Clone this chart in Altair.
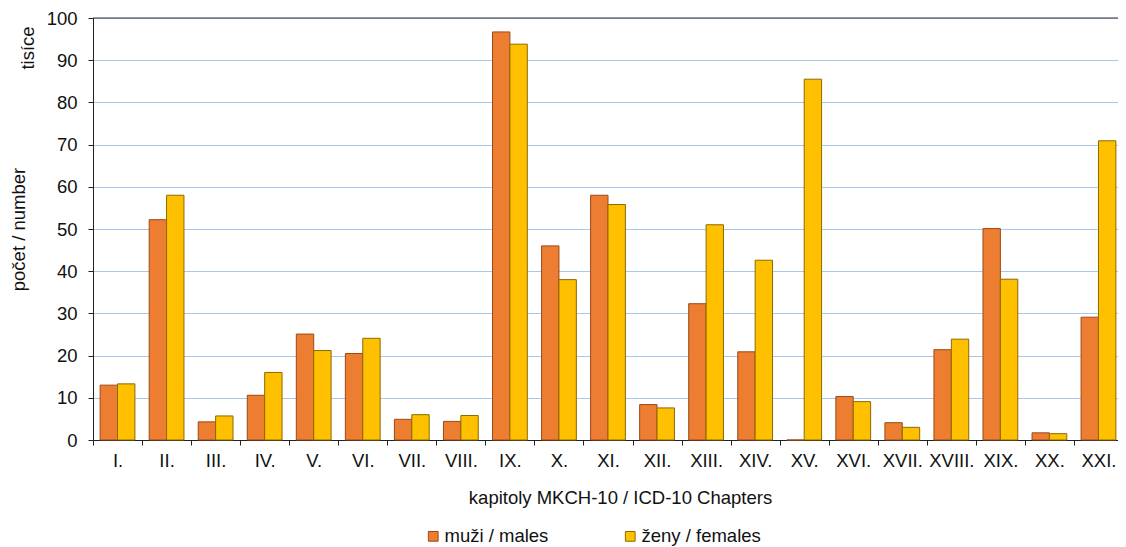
import altair as alt
import pandas as pd

chapters = ["I.", "II.", "III.", "IV.", "V.", "VI.", "VII.", "VIII.", "IX.", "X.",
            "XI.", "XII.", "XIII.", "XIV.", "XV.", "XVI.", "XVII.", "XVIII.", "XIX.", "XX.", "XXI."]
males = [13.0, 52.2, 4.3, 10.6, 25.1, 20.5, 4.9, 4.4, 96.7, 46.0,
         58.0, 8.4, 32.3, 20.9, 0.0, 10.3, 4.1, 21.4, 50.1, 1.7, 29.1]
females = [13.3, 58.0, 5.7, 16.0, 21.2, 24.1, 6.0, 5.8, 93.8, 38.0,
           55.8, 7.6, 51.0, 42.6, 85.5, 9.1, 3.0, 23.9, 38.1, 1.5, 70.9]
series = ["muži / males", "ženy / females"]
fill_colors = ["#ED7D31", "#FFC000"]
stroke_colors = ["#9A4A17", "#8C6A00"]

rows = []
for c, m, f in zip(chapters, males, females):
    rows.append({"chapter": c, "sex": series[0], "value": m})
    rows.append({"chapter": c, "sex": series[1], "value": f})
df = pd.DataFrame(rows)

FONT = "Liberation Sans"
FS = 18.5

bars = alt.Chart(df).mark_bar(strokeWidth=1).encode(
    x=alt.X("chapter:N", sort=chapters,
            scale=alt.Scale(paddingInner=0, paddingOuter=0, range=[0, 1030]),
            axis=alt.Axis(title="kapitoly MKCH-10 / ICD-10 Chapters", labelAngle=0,
                          tickBand="extent", tickSize=5, tickColor="#222", domainColor="#222",
                          labelFontSize=FS, labelColor="#111", labelPadding=6,
                          titleFontSize=FS, titleFontWeight="normal", titleColor="#111",
                          titleBaseline="middle", titleY=57, titleX=527, grid=False)),
    xOffset=alt.XOffset("sex:N", sort=series,
                        scale=alt.Scale(domain=series, paddingInner=0, paddingOuter=0.41)),
    y=alt.Y("value:Q", scale=alt.Scale(domain=[0, 100]),
            axis=alt.Axis(values=list(range(0, 101, 10)), title="počet / number",
                          tickSize=5, tickColor="#222", domainColor="#222",
                          labelFontSize=FS, labelColor="#111", labelPadding=11,
                          titleFontSize=FS, titleFontWeight="normal", titleColor="#111",
                          titleX=-75, titleY=211, titleAngle=270, titleAlign="center",
                          titleBaseline="middle",
                          grid=True, gridColor="#A6C8EA", gridWidth=1)),
    color=alt.Color("sex:N", sort=series,
                    scale=alt.Scale(domain=series, range=fill_colors),
                    legend=alt.Legend(title=None, orient="none", direction="horizontal",
                                      legendX=331, legendY=509,
                                      symbolType="square", symbolSize=95,
                                      symbolStrokeWidth=1, labelFontSize=FS,
                                      labelColor="#111", labelOffset=2,
                                      columnPadding=72)),
    stroke=alt.Stroke("sex:N", sort=series,
                      scale=alt.Scale(domain=series, range=stroke_colors),
                      legend=None),
)

top_rule = alt.Chart(pd.DataFrame({"v": [100]})).mark_rule(color="#333", strokeWidth=1).encode(
    y=alt.Y("v:Q")
)

tis = alt.Chart(pd.DataFrame({"t": ["tisíce"]})).mark_text(
    angle=270, fontSize=FS, font=FONT, color="#111", align="center", baseline="middle"
).encode(text="t:N", x=alt.value(-65), y=alt.value(30))

chart = alt.layer(bars, top_rule, tis).properties(
    width=1025, height=422,
    autosize=alt.AutoSizeParams(type="none"),
    padding={"left": 85, "top": 10, "right": 0, "bottom": 118},
).configure_view(stroke=None).configure(font=FONT)

chart.save("out.html", embed_options={"renderer": "svg", "actions": False})
